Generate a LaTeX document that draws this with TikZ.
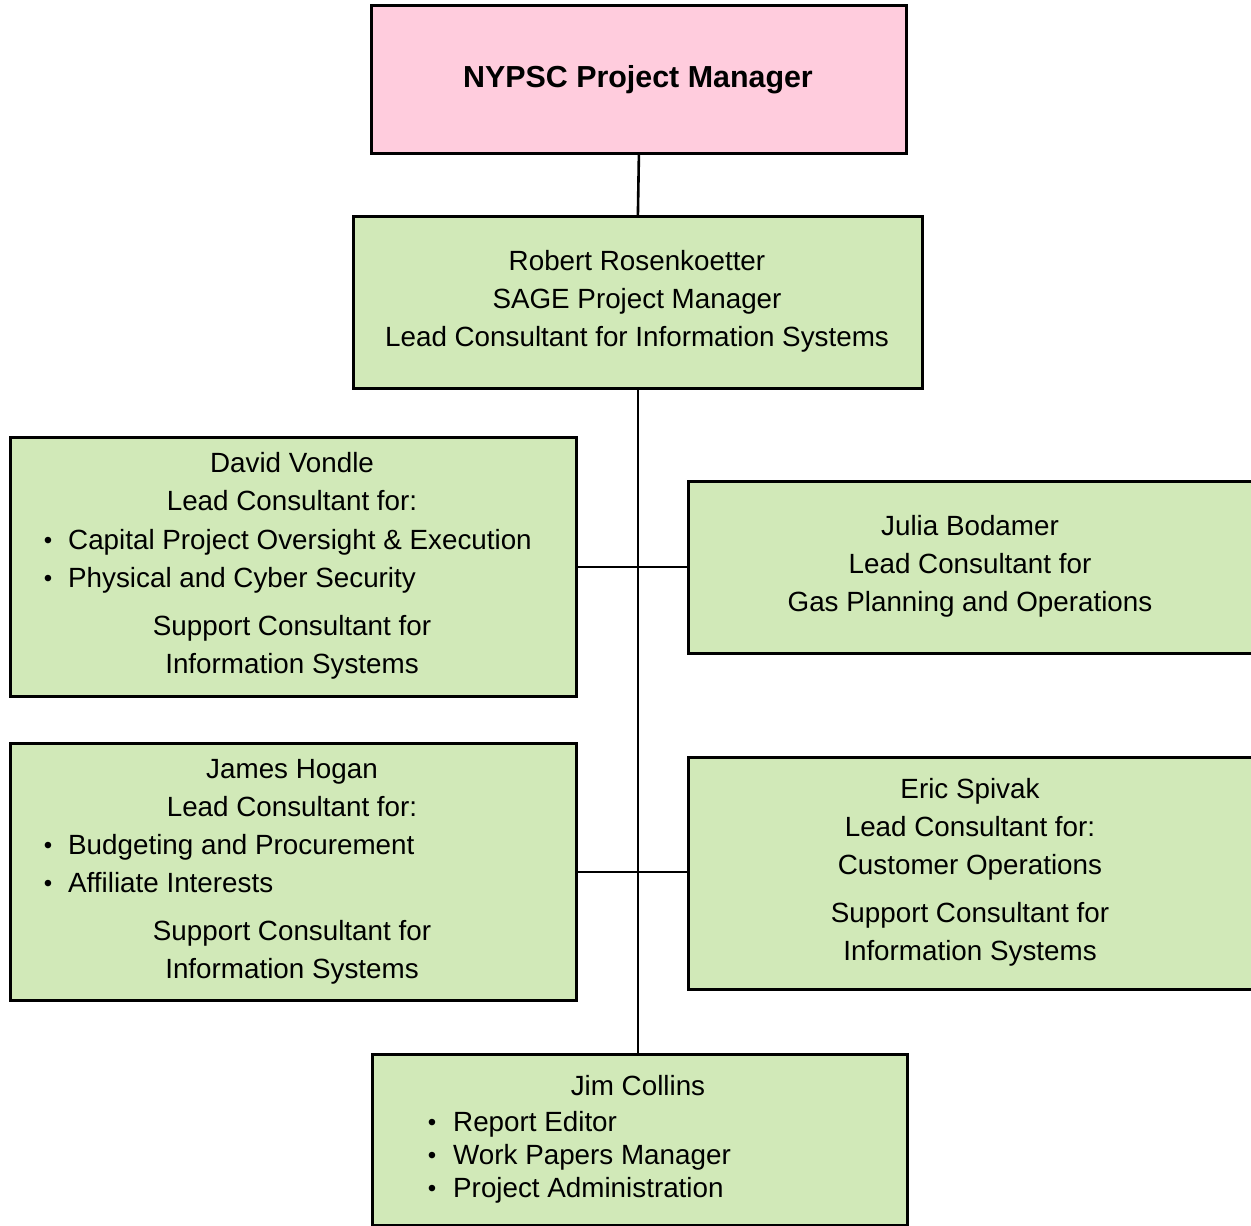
\documentclass[tikz,border=0pt]{standalone}
\usepackage{fontspec}
\setmainfont{Liberation Sans}
\definecolor{boxgreen}{HTML}{D1E9B8}
\definecolor{boxpink}{HTML}{FFCCDD}
\begin{document}
\begin{tikzpicture}[x=1pt,y=-1pt,
  box/.style={draw=black, line width=2.8pt, fill=boxgreen, inner sep=0pt, anchor=north west},
  txt/.style={inner sep=0pt, anchor=base, font=\fontsize{27.8}{32}\selectfont},
  ltxt/.style={txt, anchor=base west},
  bul/.style={inner sep=0pt, anchor=base, font=\fontsize{24}{28}\selectfont},
  conn/.style={draw=black, line width=2.6pt}]
\useasboundingbox (0,0) rectangle (1251,1226);
\clip (0,0) rectangle (1251,1226);
\fill[white] (0,0) rectangle (1251,1226);
% boxes
\node[box, fill=boxpink, minimum width=535pt, minimum height=148pt] (nypsc) at (370,4) {};
\node[box, minimum width=569pt, minimum height=172pt] (robert) at (352,215) {};
\node[box, minimum width=566pt, minimum height=259pt] (david) at (9,436) {};
\node[box, minimum width=580pt, minimum height=172pt] (julia) at (687,480) {};
\node[box, minimum width=566pt, minimum height=257pt] (james) at (9,742) {};
\node[box, minimum width=580pt, minimum height=232pt] (eric) at (687,756) {};
\node[box, minimum width=535pt, minimum height=171pt] (jim) at (371,1053) {};
% connectors
\draw[conn] (nypsc.south) -- (robert.north);
\draw[conn] (robert.south) -- (jim.north -| robert.south);
\draw[conn] (david.east) -- (david.east -| julia.west);
\draw[conn] (james.east) -- (james.east -| eric.west);
% texts
\node[txt, font=\fontsize{30.4}{34}\selectfont\bfseries] (t0) at (638,87) {NYPSC Project Manager};
\node[txt] (r1) at (637,270) {Robert Rosenkoetter};
\node[txt] (r2) at (637,308) {SAGE Project Manager};
\node[txt] (r3) at (637,346) {Lead Consultant for Information Systems};
\node[txt] (d1) at (292,472) {David Vondle};
\node[txt] (d2) at (292,510) {Lead Consultant for:};
\node[bul] (d3b) at (48,548) {•};
\node[ltxt] (d3) at (68,549) {Capital Project Oversight \& Execution};
\node[bul] (d4b) at (48,586) {•};
\node[ltxt] (d4) at (68,587) {Physical and Cyber Security};
\node[txt] (d5) at (292,635) {Support Consultant for};
\node[txt] (d6) at (292,673) {Information Systems};
\node[txt] (j1) at (970,535) {Julia Bodamer};
\node[txt] (j2) at (970,573) {Lead Consultant for};
\node[txt] (j3) at (970,611) {Gas Planning and Operations};
\node[txt] (h1) at (292,778) {James Hogan};
\node[txt] (h2) at (292,816) {Lead Consultant for:};
\node[bul] (h3b) at (48,853) {•};
\node[ltxt] (h3) at (68,854) {Budgeting and Procurement};
\node[bul] (h4b) at (48,891) {•};
\node[ltxt] (h4) at (68,892) {Affiliate Interests};
\node[txt] (h5) at (292,940) {Support Consultant for};
\node[txt] (h6) at (292,978) {Information Systems};
\node[txt] (e1) at (970,798) {Eric Spivak};
\node[txt] (e2) at (970,836) {Lead Consultant for:};
\node[txt] (e3) at (970,874) {Customer Operations};
\node[txt] (e4) at (970,922) {Support Consultant for};
\node[txt] (e5) at (970,960) {Information Systems};
\node[txt] (c1) at (638,1095) {Jim Collins};
\node[bul] (c2b) at (432,1130) {•};
\node[ltxt] (c2) at (453,1131) {Report Editor};
\node[bul] (c3b) at (432,1163) {•};
\node[ltxt] (c3) at (453,1164) {Work Papers Manager};
\node[bul] (c4b) at (432,1196) {•};
\node[ltxt] (c4) at (453,1197) {Project Administration};
\end{tikzpicture}
\end{document}
